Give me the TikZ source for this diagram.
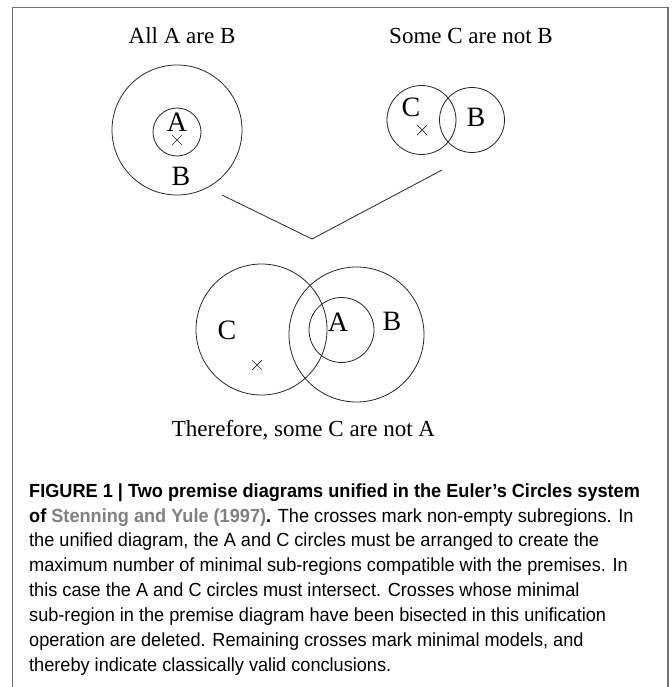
\documentclass[tikz,border=0pt]{standalone}
\usepackage{fontspec}
\setmainfont{Liberation Serif}
\newfontfamily\capfont[FakeStretch=0.955]{Liberation Sans}
\usetikzlibrary{shapes.misc}
\definecolor{framegray}{HTML}{707070}
\definecolor{refgray}{HTML}{808080}
\tikzset{
  euler/.style={circle, draw=black!85, line width=0.8pt, inner sep=0pt},
  xmark/.style={cross out, draw=black!85, line width=0.7pt, minimum size=9pt, inner sep=0pt},
  lab/.style={font=\fontsize{28}{30}\selectfont, inner sep=0pt},
  ttl/.style={font=\fontsize{23}{26}\selectfont, inner sep=0pt, anchor=base},
  capline/.style={font=\capfont\fontsize{19}{22}\selectfont, inner sep=0pt, anchor=base west},
  link/.style={line width=0.8pt, draw=black!85}
}
\begin{document}
\begin{tikzpicture}[x=1pt,y=-1pt]
\useasboundingbox (0,0) rectangle (671,687);
\draw[framegray, line width=1.5pt] (12.5,687) -- (12.5,7.5) -- (668,7.5) -- (668,687);
% titles
\node[ttl] (t1) at (182,44) {All A are B};
\node[ttl] (t2) at (471,44) {Some C are not B};
% first premise
\node[euler, minimum size=130pt] (B1) at (177,130) {};
\node[euler, minimum size=48pt] (A1) at (177,132) {};
\node[lab] (lA1) at (177,122) {A};
\node[xmark] (x1) at (177,140) {};
\node[lab] (lB1) at (181,176) {B};
% second premise
\node[euler, minimum size=69pt] (C2) at (421.5,120) {};
\node[euler, minimum size=65pt] (B2) at (472,120) {};
\node[lab] (lC2) at (411,107) {C};
\node[xmark] (x2) at (422,130) {};
\node[lab] (lB2) at (476,117) {B};
% connector
\coordinate (p1) at (222,195);
\coordinate (apex) at (312,239);
\coordinate (p2) at (442,170);
\draw[link] (p1) -- (apex) -- (p2);
% unified diagram
\node[euler, minimum size=131pt] (C3) at (261.5,329.5) {};
\node[euler, minimum size=135pt] (B3) at (356.5,334.5) {};
\node[euler, minimum size=65pt] (A3) at (341.5,330) {};
\node[lab] (lC3) at (227,330) {C};
\node[lab] (lA3) at (338,322) {A};
\node[lab] (lB3) at (392,321) {B};
\node[xmark] (x3) at (257,365) {};
\node[ttl] (concl) at (303.5,436) {Therefore, some C are not A};
% caption
\node[capline] (c1) at (29,497) {\bfseries FIGURE 1 | Two premise diagrams unified in the Euler’s Circles system};
\node[capline] (c2) at (29,522) {\bfseries of \textcolor{refgray}{Stenning and Yule (1997)}.\mdseries{} The crosses mark non-empty subregions. In};
\node[capline] (c3) at (29,546.5) {the unified diagram, the A and C circles must be arranged to create the};
\node[capline] (c4) at (29,571) {maximum number of minimal sub-regions compatible with the premises. In};
\node[capline] (c5) at (29,596) {this case the A and C circles must intersect. Crosses whose minimal};
\node[capline] (c6) at (29,621) {sub-region in the premise diagram have been bisected in this unification};
\node[capline] (c7) at (29,646) {operation are deleted. Remaining crosses mark minimal models, and};
\node[capline] (c8) at (29,671) {thereby indicate classically valid conclusions.};
\end{tikzpicture}
\end{document}
